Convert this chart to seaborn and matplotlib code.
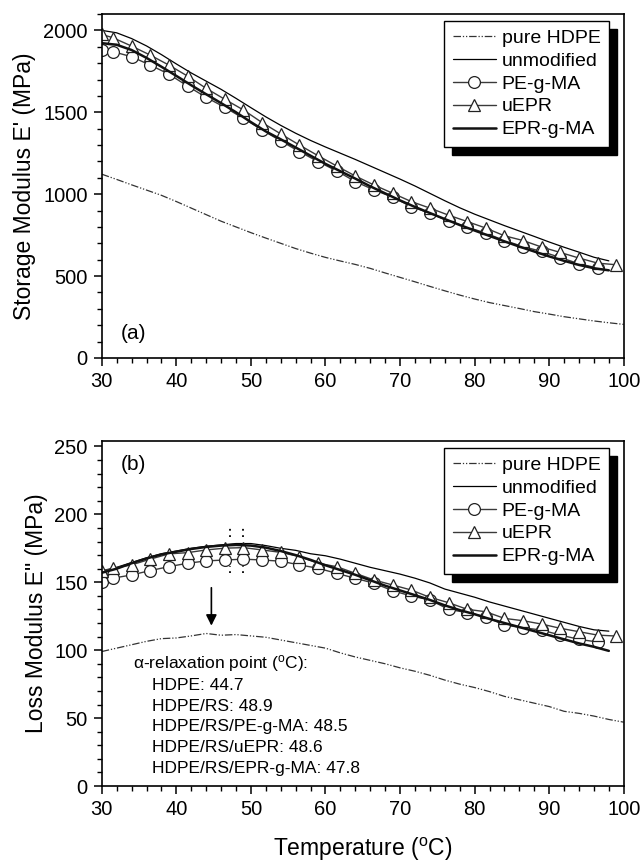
import matplotlib
matplotlib.use("Agg")
import matplotlib.pyplot as plt
import seaborn as sns
from matplotlib.patches import Rectangle
from matplotlib.ticker import MultipleLocator

# ---- data ----
# temperature grids
T_line = [30, 32, 34, 36, 38, 40, 42, 44, 46, 48, 50, 52, 54, 56, 58, 60, 62, 64,
          66, 68, 70, 72, 74, 76, 78, 80, 82, 84, 86, 88, 90, 92, 94, 96, 98]
T_hdpe = T_line + [100]
T_circ = [30, 31.5, 34, 36.5, 39, 41.5, 44, 46.5, 49, 51.5, 54, 56.5, 59, 61.5,
          64, 66.5, 69, 71.5, 74, 76.5, 79, 81.5, 84, 86.5, 89, 91.5, 94, 96.5]
T_tri = T_circ + [99]

# (a) storage modulus E' (MPa)
hdpe_E1 = [1122, 1090, 1057, 1025, 993, 955, 915, 875, 835, 800, 765, 732, 700, 668,
           640, 614, 592, 571, 547, 519, 492, 465, 437, 410, 384, 360, 338, 320, 302,
           283, 268, 252, 239, 226, 215, 205]
unmod_E1 = [2000, 1985, 1950, 1905, 1852, 1795, 1740, 1690, 1640, 1585, 1528, 1472,
            1420, 1372, 1328, 1288, 1250, 1212, 1172, 1132, 1092, 1050, 1005, 960,
            917, 878, 843, 808, 775, 742, 708, 676, 646, 615, 593]
pegma_E1 = [1880, 1870, 1839, 1788, 1733, 1660, 1591, 1530, 1463, 1392, 1325, 1260,
            1199, 1142, 1077, 1026, 982, 924, 884, 836, 799, 762, 717, 680, 650, 613,
            575, 549]
uepr_E1 = [1975, 1955, 1904, 1849, 1788, 1721, 1646, 1579, 1514, 1437, 1368, 1300,
           1235, 1172, 1111, 1056, 1006, 955, 915, 872, 833, 793, 746, 717, 677, 644,
           610, 579, 569]
eprgma_E1 = [1922, 1912, 1880, 1832, 1778, 1722, 1665, 1610, 1556, 1500, 1440, 1383,
             1335, 1285, 1235, 1185, 1140, 1095, 1048, 1005, 962, 922, 885, 848, 812,
             778, 745, 712, 680, 650, 620, 593, 568, 548, 535]

# (b) loss modulus E" (MPa)
hdpe_E2 = [99, 101.5, 104, 106.5, 108.5, 109, 110.5, 112.3, 111, 111.5, 110.5, 109.5,
           107.5, 105.5, 103.5, 101.5, 98, 95, 92.5, 90, 87, 84.5, 81.5, 78, 75, 72.5,
           69.5, 66, 63.5, 61, 58.5, 55, 53.5, 51.5, 49, 47]
unmod_E2 = [158, 161, 164.5, 168, 171, 173, 175, 176.5, 177.5, 178.5, 178.5, 177,
            175, 173.5, 171, 169.5, 167, 164, 161, 158.5, 156, 153, 149.5, 145, 142,
            139, 135.5, 132.5, 129.5, 126.5, 123.5, 120.5, 117.5, 115, 114]
pegma_E2 = [150.4, 153, 155.4, 158.6, 161.5, 164, 165.7, 166.4, 167, 166.4, 165.5,
            162.8, 160.3, 156.6, 152.9, 149.3, 143.8, 139.9, 137, 130.1, 127.6, 124.6,
            118.5, 116.5, 114.8, 111.1, 108, 106]
uepr_E2 = [158.5, 160.3, 162.8, 167, 170.9, 171.8, 173.8, 175.1, 175.5, 173.8, 172,
           168.9, 164, 161.5, 156.6, 151.7, 148, 144.3, 138.9, 135, 130.1, 128.3,
           123.4, 121.7, 119.2, 116.1, 113.6, 111.1, 110.4]
eprgma_E2 = [157, 160, 164, 167.5, 170.5, 172.5, 174.5, 176, 177, 177.5, 177, 175.5,
             173, 170, 166.5, 162.5, 159, 155.5, 151.5, 147.5, 144, 140.5, 137, 133,
             129.5, 126.5, 123, 120, 117, 114, 111, 108, 105, 102.5, 99.5]

relax_labels = ["HDPE", "HDPE/RS", "HDPE/RS/PE-g-MA", "HDPE/RS/uEPR", "HDPE/RS/EPR-g-MA"]
relax_temps = [44.7, 48.9, 48.5, 48.6, 47.8]

series_names = ["pure HDPE", "unmodified", "PE-g-MA", "uEPR", "EPR-g-MA"]

sns.set_style("ticks")
plt.rcParams["font.family"] = ["Liberation Sans", "DejaVu Sans"]
plt.rcParams["mathtext.fontset"] = "custom"
plt.rcParams["mathtext.rm"] = "Liberation Sans"
plt.rcParams["mathtext.it"] = "Liberation Sans:italic"
plt.rcParams["text.color"] = "black"
plt.rcParams["axes.labelcolor"] = "black"
plt.rcParams["xtick.color"] = "black"
plt.rcParams["ytick.color"] = "black"

DEG = r"$^{\mathrm{o}}$C"

fig = plt.figure(figsize=(6.4, 8.63), dpi=100)
ax1 = fig.add_axes([0.159, 0.5852, 0.8156, 0.3986])
ax2 = fig.add_axes([0.159, 0.0892, 0.8156, 0.3998])


def draw_panel(ax, hdpe, unmod, pegma, uepr, eprgma):
    sns.lineplot(x=T_hdpe, y=hdpe, ax=ax, color="#333333", lw=0.9,
                 label=series_names[0])
    ax.lines[-1].set_linestyle((0, (6, 1.5, 1, 1.5, 1, 1.5)))
    sns.lineplot(x=T_line, y=unmod, ax=ax, color="black", lw=0.9, label=series_names[1])
    sns.lineplot(x=T_circ, y=pegma, ax=ax, color="#3a3a3a", lw=1.0, marker="o",
                 markersize=8.5, markerfacecolor="white", markeredgecolor="#222222",
                 markeredgewidth=0.9, label=series_names[2])
    sns.lineplot(x=T_tri, y=uepr, ax=ax, color="#3a3a3a", lw=1.0, marker="^",
                 markersize=9, markerfacecolor="white", markeredgecolor="#222222",
                 markeredgewidth=0.9, label=series_names[3])
    sns.lineplot(x=T_line, y=eprgma, ax=ax, color="#111111", lw=1.8, label=series_names[4])

    ax.set_xlim(30, 100)
    ax.xaxis.set_major_locator(MultipleLocator(10))
    ax.xaxis.set_minor_locator(MultipleLocator(2))
    ax.tick_params(which="major", direction="out", length=6, width=1.1,
                   labelsize=14.5, pad=4, top=False, right=False)
    ax.tick_params(which="minor", direction="out", length=3.5, width=1.0,
                   top=False, right=False)
    for s in ax.spines.values():
        s.set_linewidth(1.2)
        s.set_color("black")
        s.set_visible(True)

    leg = ax.legend(loc="upper right", bbox_to_anchor=(0.972, 0.981),
                    borderaxespad=0, fontsize=14, frameon=True, fancybox=False,
                    edgecolor="black", framealpha=1, handlelength=2.2,
                    handletextpad=0.3, labelspacing=0.27, borderpad=0.45)
    leg.get_frame().set_linewidth(1.0)
    return leg


leg1 = draw_panel(ax1, hdpe_E1, unmod_E1, pegma_E1, uepr_E1, eprgma_E1)
ax1.set_ylim(0, 2100)
ax1.yaxis.set_major_locator(MultipleLocator(500))
ax1.yaxis.set_minor_locator(MultipleLocator(100))
ax1.set_ylabel("Storage Modulus E' (MPa)", fontsize=16.5, labelpad=5)
ax1.set_xlabel("")
ax1.text(34.3, 150, "(a)", fontsize=15, ha="center", va="center")

leg2 = draw_panel(ax2, hdpe_E2, unmod_E2, pegma_E2, uepr_E2, eprgma_E2)
ax2.set_ylim(0, 254)
ax2.yaxis.set_major_locator(MultipleLocator(50))
ax2.yaxis.set_minor_locator(MultipleLocator(10))
ax2.set_ylabel('Loss Modulus E" (MPa)', fontsize=16.5, labelpad=5)
ax2.set_xlabel("Temperature (" + DEG + ")", fontsize=16.5, labelpad=12)
ax2.text(34.3, 237, "(b)", fontsize=15, ha="center", va="center")

# alpha-relaxation arrow and dotted marker around the peak
ax2.annotate("", xy=(relax_temps[0], 116), xytext=(relax_temps[0], 148),
             arrowprops=dict(arrowstyle="-|>", color="black", lw=1.2,
                             mutation_scale=16))
peak_x = [47.2, 49.0]
for xb in peak_x:
    ax2.plot([xb, xb], [183, 191], ls=(0, (1, 2.5)), color="black", lw=1.3)
    ax2.plot([xb, xb], [157, 162], ls=(0, (1, 2.5)), color="black", lw=1.3)

ax2.text(34.2, 90.5, "\u03b1-relaxation point (" + DEG + "):", fontsize=12.5,
         ha="left", va="center")
for i, (lab, t) in enumerate(zip(relax_labels, relax_temps)):
    ax2.text(36.8, 74.3 - 15.4 * i, f"{lab}: {t}", fontsize=12.5, ha="left", va="center")

# solid black shadow behind the legends
fig.canvas.draw()
for ax, leg in [(ax1, leg1), (ax2, leg2)]:
    bb = leg.get_frame().get_window_extent().transformed(ax.transAxes.inverted())
    dx = 8 / (ax.bbox.width)
    dy = 8 / (ax.bbox.height)
    ax.add_patch(Rectangle((bb.x0 + dx, bb.y0 - dy), bb.width, bb.height,
                           transform=ax.transAxes, facecolor="black",
                           edgecolor="black", zorder=4.5, clip_on=False))

fig.savefig("out.png", dpi=100)
